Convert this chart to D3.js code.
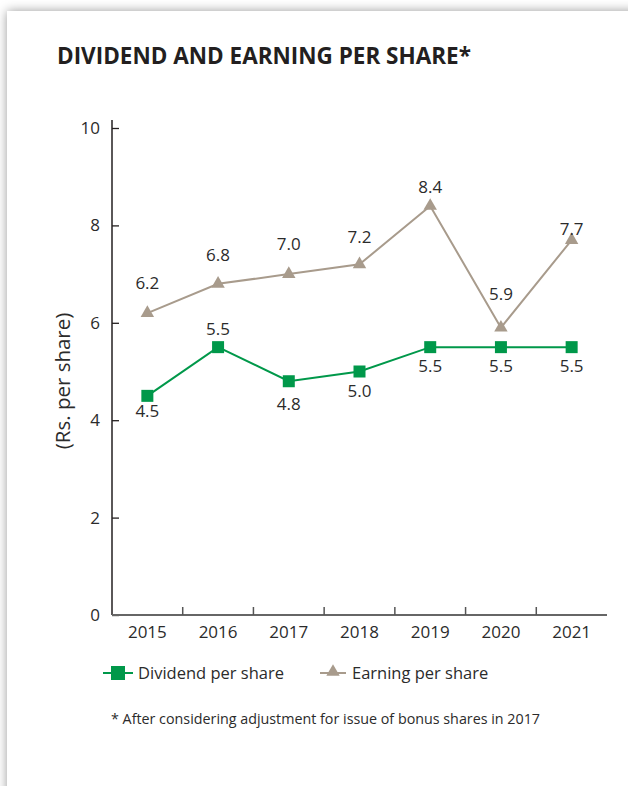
<!DOCTYPE html>
<html>
<head>
<meta charset="utf-8">
<script src="https://cdn.jsdelivr.net/npm/d3@7"></script>
<style>
  body { margin: 0; background: #fff; overflow: hidden; }
  #card { position: absolute; left: 7px; top: 11px; width: 640px; height: 800px; background: #fff; box-shadow: 0 0 10px rgba(0,0,0,0.4); }
  svg { position: absolute; left: 0; top: 0; }
  text { font-family: "Open Sans", sans-serif; fill: #2b2b2b; }
</style>
</head>
<body>
<div id="card"></div>
<script>
// chart data
var years = ["2015", "2016", "2017", "2018", "2019", "2020", "2021"];
var dividend = [4.5, 5.5, 4.8, 5.0, 5.5, 5.5, 5.5];
var earning = [6.2, 6.8, 7.0, 7.2, 8.4, 5.9, 7.7];
var yTicks = [0, 2, 4, 6, 8, 10];

// label nudges (px, negative = above the marker)
var dividendLabelDy = [15, -18, 23, 19, 19, 19, 19];
var earningLabelDy = [-30, -29, -30, -27, -19, -34, -11];

var green = "#00984a";
var taupe = "#a89b8c";

var width = 628, height = 786;
var svg = d3.select("body").append("svg")
    .attr("width", width)
    .attr("height", height);

var x = d3.scaleBand().domain(years).range([112, 607]);
var y = d3.scaleLinear().domain([0, 10]).range([615, 128]);

// title
svg.append("text")
    .attr("x", 57)
    .attr("y", 64)
    .style("font-size", "22.5px")
    .style("font-weight", "bold")
    .style("fill", "#231f20")
    .text("DIVIDEND AND EARNING PER SHARE*");

// y axis
var yAxis = svg.append("g")
    .attr("transform", "translate(112,0)")
    .call(d3.axisRight(y).tickValues(yTicks).tickSize(7).tickFormat(d3.format("d")));
yAxis.select(".domain").attr("d", "M0,120V615").attr("stroke", "#231f20").attr("stroke-width", 1.5);
yAxis.selectAll(".tick line").attr("stroke", "#231f20").attr("stroke-width", 1.3);
yAxis.selectAll(".tick text")
    .attr("x", -12)
    .attr("text-anchor", "end")
    .style("font-size", "17px")
    .style("font-family", "'Open Sans', sans-serif")
    .style("fill", "#2b2b2b");

// x axis, ticks on the band edges
var xAxis = svg.append("g").attr("transform", "translate(0,615)");
xAxis.append("line")
    .attr("x1", 112).attr("x2", 607)
    .attr("stroke", "#666").attr("stroke-width", 2);
xAxis.selectAll(".edge")
    .data(years.slice(1))
    .enter().append("line")
    .attr("x1", function(d){ return x(d); })
    .attr("x2", function(d){ return x(d); })
    .attr("y1", 0).attr("y2", -8)
    .attr("stroke", "#555").attr("stroke-width", 1.5);
xAxis.selectAll(".lbl")
    .data(years)
    .enter().append("text")
    .attr("x", function(d){ return x(d) + x.bandwidth()/2; })
    .attr("y", 23)
    .attr("text-anchor", "middle")
    .style("font-size", "17px")
    .text(function(d){ return d; });

// y title
svg.append("text")
    .attr("transform", "translate(70,381) rotate(-90)")
    .attr("text-anchor", "middle")
    .style("font-size", "20.5px")
    .text("(Rs. per share)");

var cx = function(d, i){ return x(years[i]) + x.bandwidth()/2; };
var line = d3.line().x(cx).y(function(d){ return y(d); });

var tri = d3.symbol().type(d3.symbolTriangle).size(78);

// earning per share
svg.append("path")
    .datum(earning)
    .attr("d", line)
    .attr("fill", "none")
    .attr("stroke", taupe)
    .attr("stroke-width", 2);
svg.selectAll(".eps")
    .data(earning)
    .enter().append("path")
    .attr("d", tri)
    .attr("transform", function(d, i){ return "translate(" + cx(d, i) + "," + y(d) + ")"; })
    .attr("fill", taupe);
svg.selectAll(".epsLbl")
    .data(earning)
    .enter().append("text")
    .attr("x", cx)
    .attr("y", function(d, i){ return y(d) + earningLabelDy[i] + 6; })
    .attr("text-anchor", "middle")
    .style("font-size", "17px")
    .text(function(d){ return d.toFixed(1); });

// dividend per share
svg.append("path")
    .datum(dividend)
    .attr("d", line)
    .attr("fill", "none")
    .attr("stroke", green)
    .attr("stroke-width", 2);
svg.selectAll(".dps")
    .data(dividend)
    .enter().append("rect")
    .attr("x", function(d, i){ return cx(d, i) - 6; })
    .attr("y", function(d){ return y(d) - 6; })
    .attr("width", 12).attr("height", 12)
    .attr("fill", green);
svg.selectAll(".dpsLbl")
    .data(dividend)
    .enter().append("text")
    .attr("x", cx)
    .attr("y", function(d, i){ return y(d) + dividendLabelDy[i] + 6; })
    .attr("text-anchor", "middle")
    .style("font-size", "17px")
    .text(function(d){ return d.toFixed(1); });

// legend
var leg = svg.append("g").attr("transform", "translate(0,673)");
leg.append("line").attr("x1", 103).attr("x2", 133).attr("stroke", green).attr("stroke-width", 2);
leg.append("rect").attr("x", 111).attr("y", -7).attr("width", 14).attr("height", 14).attr("fill", green);
leg.append("text").attr("x", 138).attr("y", 6).style("font-size", "16.5px").text("Dividend per share");
leg.append("line").attr("x1", 320).attr("x2", 346).attr("stroke", taupe).attr("stroke-width", 2);
leg.append("path").attr("d", tri).attr("transform", "translate(333,-1)").attr("fill", taupe);
leg.append("text").attr("x", 352).attr("y", 6).style("font-size", "16.5px").text("Earning per share");

// footnote
svg.append("text")
    .attr("x", 111)
    .attr("y", 724)
    .style("font-size", "14.3px")
    .text("* After considering adjustment for issue of bonus shares in 2017");
</script>
</body>
</html>
